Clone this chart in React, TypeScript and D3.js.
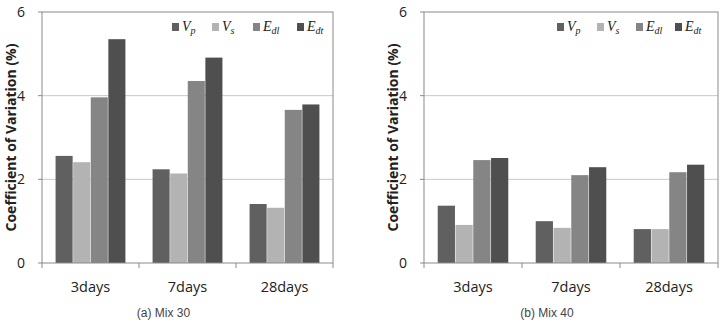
import React from 'react';
import * as d3 from 'd3';

const categories = ['3days', '7days', '28days'];
const seriesKeys = ['Vp', 'Vs', 'Edl', 'Edt'];
const seriesMain = ['V', 'V', 'E', 'E'];
const seriesSub = ['p', 's', 'dl', 'dt'];
const seriesColors = ['#606060', '#b3b3b3', '#858585', '#4f4f4f'];

const mix30Vp = [2.56, 2.24, 1.41];
const mix30Vs = [2.41, 2.14, 1.32];
const mix30Edl = [3.96, 4.35, 3.66];
const mix30Edt = [5.35, 4.91, 3.79];

const mix40Vp = [1.37, 1.0, 0.81];
const mix40Vs = [0.91, 0.84, 0.81];
const mix40Edl = [2.46, 2.1, 2.17];
const mix40Edt = [2.51, 2.29, 2.35];

const yTicks = [0, 2, 4, 6];

type PanelProps = {
  x0: number;
  x1: number;
  caption: string;
  series: number[][];
  legendX: number[];
};

function Panel({ x0, x1, caption, series, legendX }: PanelProps) {
  const top = 12;
  const bottom = 263;
  const y = d3.scaleLinear().domain([0, 6]).range([bottom, top]);
  const xOuter = d3.scaleBand<string>().domain(categories).range([x0, x1]);
  const bw = xOuter.bandwidth();
  const xInner = d3
    .scaleBand<string>()
    .domain(seriesKeys)
    .range([bw * 0.14, bw * 0.86])
    .paddingInner(0.03);

  return (
    <g>
      {yTicks.filter(t => t > 0 && t < 6).map(t => (
        <line key={t} x1={x0} x2={x1} y1={y(t)} y2={y(t)} stroke="#c8c8c8" strokeWidth={1} />
      ))}
      {categories.map((c, ci) => (
        <g key={c}>
          {seriesKeys.map((k, si) => (
            <rect
              key={k}
              x={(xOuter(c) as number) + (xInner(k) as number)}
              y={y(series[si][ci])}
              width={xInner.bandwidth()}
              height={bottom - y(series[si][ci])}
              fill={seriesColors[si]}
            />
          ))}
        </g>
      ))}
      <rect x={x0} y={top} width={x1 - x0} height={bottom - top} fill="none" stroke="#8a8a8a" strokeWidth={1} />
      {categories.map(c => (
        <line key={c} x1={xOuter(c) as number} x2={xOuter(c) as number} y1={bottom} y2={bottom + 5} stroke="#8a8a8a" />
      ))}
      <line x1={x1} x2={x1} y1={bottom} y2={bottom + 5} stroke="#8a8a8a" />
      {yTicks.map(t => (
        <g key={t}>
          <line x1={x0 - 4} x2={x0} y1={y(t)} y2={y(t)} stroke="#8a8a8a" />
          <text x={x0 - 17} y={y(t)} dy="0.35em" textAnchor="end" fontSize={14} fontFamily="'Open Sans', sans-serif" fill="#222">
            {t}
          </text>
        </g>
      ))}
      {categories.map(c => (
        <text key={c} x={(xOuter(c) as number) + bw / 2} y={287} dy="0.35em" textAnchor="middle" fontSize={14.5} fontFamily="'Open Sans', sans-serif" fill="#222">
          {c}
        </text>
      ))}
      <text
        transform={`translate(${x0 - 31},${(top + bottom) / 2}) rotate(-90)`}
        textAnchor="middle"
        dy="0.35em"
        fontSize={14}
        fontWeight="bold"
        fontFamily="'Open Sans', sans-serif"
        fill="#222"
      >
        Coefficient of Variation (%)
      </text>
      {seriesKeys.map((k, i) => (
        <g key={k}>
          <rect x={legendX[i]} y={23} width={7} height={8} fill={seriesColors[i]} />
          <text x={legendX[i] + 10} y={31} fontSize={14} fontStyle="italic" fontFamily="'Liberation Serif', serif" fill="#222">
            {seriesMain[i]}
            <tspan fontSize={10} dy={3}>{seriesSub[i]}</tspan>
          </text>
        </g>
      ))}
      <text x={(x0 + x1) / 2 - 24} y={313} dy="0.35em" textAnchor="middle" fontSize={12} fontFamily="'Liberation Sans', sans-serif" fill="#444">
        {caption}
      </text>
    </g>
  );
}

export default function App() {
  return (
    <svg width={720} height={322} style={{ position: 'absolute', left: 0, top: 0, background: '#fff' }}>
      <Panel
        x0={42}
        x1={333}
        caption="(a)  Mix 30"
        series={[mix30Vp, mix30Vs, mix30Edl, mix30Edt]}
        legendX={[172, 212, 253, 297]}
      />
      <Panel
        x0={424}
        x1={718}
        caption="(b)  Mix 40"
        series={[mix40Vp, mix40Vs, mix40Edl, mix40Edt]}
        legendX={[557, 597, 636, 675]}
      />
    </svg>
  );
}
